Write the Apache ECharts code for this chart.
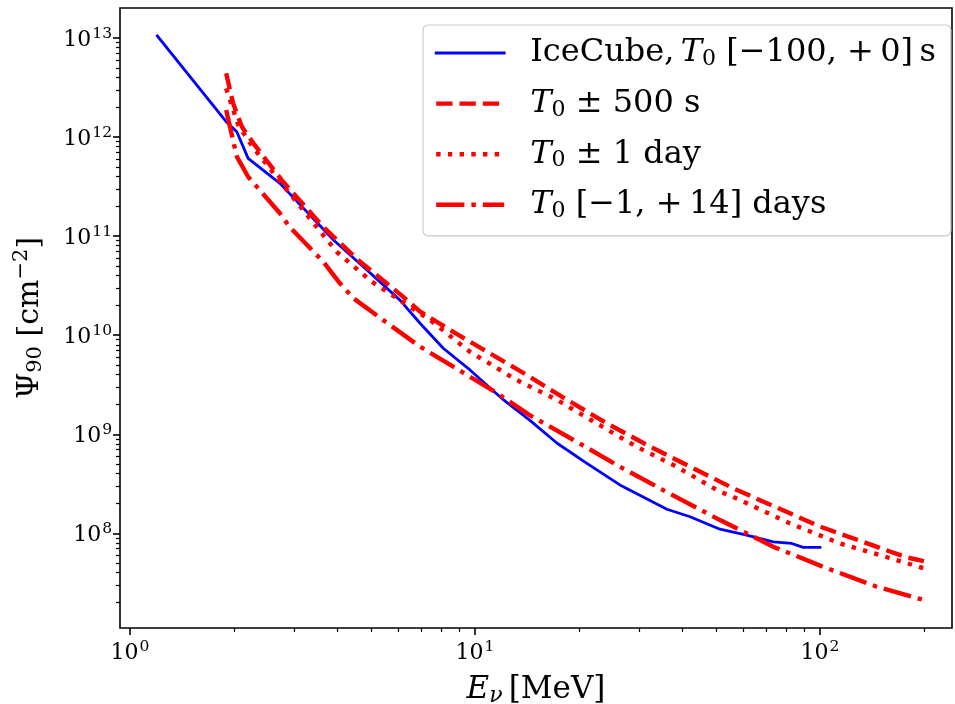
<!DOCTYPE html>
<html>
<head>
<meta charset="utf-8">
<title>Neutrino fluence upper limits</title>
<script src="https://cdn.jsdelivr.net/npm/echarts@6/dist/echarts.min.js"></script>
<style>
  html, body { margin: 0; padding: 0; background: #ffffff; }
  #chart { width: 955px; height: 704px; }
</style>
</head>
<body>
<div id="chart"></div>
<script>
// Upper limits on the neutrino fluence (90% C.L.) versus neutrino energy.
const energyIceCube = [1.2, 1.9, 2.04, 2.2, 2.72, 3.89, 4.86, 6.06, 6.93, 8.09, 9.67, 12.1, 14.4, 17.3, 21.1, 26.3, 36.0, 42.0, 51.3, 61.3, 73.2, 82.8, 89.4, 100];
const fluxIceCube = [1.05e13, 1.43e12, 1.13e12, 6.1e11, 3.41e11, 9.15e10, 4.55e10, 2.26e10, 1.32e10, 7.38e9, 4.46e9, 2.22e9, 1.39e9, 8.11e8, 5.09e8, 3.08e8, 1.75e8, 1.47e8, 1.10e8, 9.6e7, 8.2e7, 7.9e7, 7.2e7, 7.2e7];

const energy500s = [1.9, 1.99, 2.11, 2.28, 2.46, 2.75, 3.63, 4.58, 6.06, 6.93, 8.65, 11.05, 14.4, 18.5, 24.1, 32.2, 43.9, 56.7, 100, 178, 200];
const flux500s = [4.4e12, 2.19e12, 1.27e12, 8.65e11, 6.11e11, 3.69e11, 1.24e11, 5.74e10, 2.6e10, 1.73e10, 1.08e10, 6.56e9, 3.81e9, 2.22e9, 1.29e9, 7.49e8, 4.36e8, 2.79e8, 1.17e8, 5.72e7, 5.25e7];

const energy1day = [1.9, 2.06, 2.26, 2.76, 3.97, 5.02, 7.41, 9.67, 13.2, 17.3, 22.5, 29.4, 38.4, 50.2, 58.6, 81.8, 114, 160, 200];
const flux1day = [3.1e12, 1.32e12, 8.1e11, 3.36e11, 6.96e10, 3.47e10, 1.42e10, 6.8e9, 3.53e9, 2.22e9, 1.29e9, 7.48e8, 4.7e8, 2.74e8, 2.17e8, 1.26e8, 7.93e7, 5.6e7, 4.43e7];

const energy14days = [1.9, 2.04, 2.2, 2.33, 2.72, 2.9, 3.63, 4.06, 4.44, 5.42, 6.93, 8.65, 11.6, 14.4, 19.3, 26.3, 35.1, 51.3, 73.2, 102, 146, 200];
const flux14days = [1.88e12, 6.34e11, 3.98e11, 3.16e11, 1.70e11, 1.24e11, 5.52e10, 3.34e10, 2.36e10, 1.42e10, 7.65e9, 4.81e9, 2.59e9, 1.56e9, 8.75e8, 4.7e8, 2.73e8, 1.36e8, 7.33e7, 4.6e7, 2.89e7, 2.12e7];

const seriesNames = [
  'IceCube, T0 [\u2212100, +0] s',
  'T0 \u00b1 500 s',
  'T0 \u00b1 1 day',
  'T0 [\u22121, +14] days'
];

// Axis ranges and tick positions (log scales)
const xRange = [0.9355, 241.3];
const yRange = [1.107e7, 2.009e13];
const xMajorTicks = [1, 10, 100];
const xMinorTicks = [2, 3, 4, 5, 6, 7, 8, 9, 20, 30, 40, 50, 60, 70, 80, 90, 200];
const yMajorTicks = [1e8, 1e9, 1e10, 1e11, 1e12, 1e13];
const yMinorTicks = [];
for (let p = 7; p <= 12; p++) {
  for (let m = 2; m <= 9; m++) yMinorTicks.push(m * Math.pow(10, p));
}

const FONT = 'DejaVu Serif';
const BLACK = '#000000';

function pairs(xs, ys) { return xs.map((x, i) => [x, ys[i]]); }

function powerLabel(v) {
  const e = Math.log10(v);
  const r = Math.round(e);
  if (Math.abs(e - r) > 1e-6) return '';
  return '{m|10}{e|' + r + '}';
}

const tickRich = {
  m: { fontFamily: FONT, fontSize: 22, lineHeight: 26, color: BLACK, padding: [4, 0, 0, 0] },
  e: { fontFamily: FONT, fontSize: 15.5, lineHeight: 26, color: BLACK, padding: [0, 0, 8, 1] }
};

const legendText = {};
legendText[seriesNames[0]] = '{g| }{m|IceCube,\u2009}{mi|T}{sb|0}{m| [\u2212100, +\u20090]\u2009s}';
legendText[seriesNames[1]] = '{g| }{mi|T}{sb|0}{m| \u00b1 500 s}';
legendText[seriesNames[2]] = '{g| }{mi|T}{sb|0}{m| \u00b1 1 day}';
legendText[seriesNames[3]] = '{g| }{mi|T}{sb|0}{m| [\u22121, +\u200914] days}';

const LEG_FS = 32;
const legendRich = {
  g: { width: 21, lineHeight: 40, fontSize: LEG_FS },
  m: { fontFamily: FONT, fontSize: LEG_FS, lineHeight: 40, color: BLACK },
  mi: { fontFamily: FONT, fontStyle: 'italic', fontSize: LEG_FS, lineHeight: 40, color: BLACK },
  sb: { fontFamily: FONT, fontSize: 22, lineHeight: 40, color: BLACK, padding: [13, 0, 0, 0] }
};

const xTitleRich = {
  i: { fontFamily: FONT, fontStyle: 'italic', fontSize: 31, lineHeight: 36, color: BLACK },
  sb: { fontFamily: FONT, fontStyle: 'italic', fontSize: 22, lineHeight: 36, color: BLACK, padding: [12, 0, 0, 0] },
  r: { fontFamily: FONT, fontSize: 31, lineHeight: 36, color: BLACK }
};
const yTitleRich = {
  r: { fontFamily: FONT, fontSize: 30, lineHeight: 36, color: BLACK },
  sb: { fontFamily: FONT, fontSize: 21, lineHeight: 36, color: BLACK, padding: [12, 0, 0, 0] },
  sp: { fontFamily: FONT, fontSize: 21, lineHeight: 36, color: BLACK, padding: [0, 0, 16, 0] }
};

function logAxis(range, extra) {
  return Object.assign({
    type: 'log',
    logBase: 10,
    min: range[0],
    max: range[1],
    gridIndex: 0,
    splitLine: { show: false },
    axisLine: { show: false }
  }, extra);
}

const tickLine = { color: BLACK, width: 1.6 };
const minorTickLine = { color: BLACK, width: 1.2 };

const option = {
  animation: false,
  backgroundColor: '#ffffff',
  grid: {
    left: 120, right: 3, top: 8, bottom: 76,
    containLabel: false,
    outerBoundsMode: 'none',
    show: true,
    borderColor: BLACK,
    borderWidth: 1.6,
    backgroundColor: 'transparent'
  },
  xAxis: [
    logAxis(xRange, {
      position: 'bottom',
      axisTick: { show: true, customValues: xMajorTicks, length: 7, lineStyle: tickLine },
      axisLabel: { show: true, customValues: xMajorTicks, formatter: powerLabel, rich: tickRich, margin: 10 },
      name: '{i|E}{sb|\u03bd}{r|\u2009[MeV]}',
      nameLocation: 'middle',
      nameGap: 44,
      nameTextStyle: { rich: xTitleRich }
    }),
    logAxis(xRange, {
      position: 'bottom',
      axisTick: { show: true, customValues: xMinorTicks, length: 4, lineStyle: minorTickLine },
      axisLabel: { show: false }
    })
  ],
  yAxis: [
    logAxis(yRange, {
      position: 'left',
      axisTick: { show: true, customValues: yMajorTicks, length: 7, lineStyle: tickLine },
      axisLabel: { show: true, customValues: yMajorTicks, formatter: powerLabel, rich: tickRich, margin: 8 },
      name: '{r|\u03a8}{sb|90}{r| [cm}{sp|\u22122}{r|]}',
      nameLocation: 'middle',
      nameGap: 72,
      nameTextStyle: { rich: yTitleRich }
    }),
    logAxis(yRange, {
      position: 'left',
      axisTick: { show: true, customValues: yMinorTicks, length: 4, lineStyle: minorTickLine },
      axisLabel: { show: false }
    })
  ],
  legend: {
    orient: 'vertical',
    left: 423,
    top: 25,
    padding: [8, 15, 11, 11],
    itemWidth: 68,
    itemHeight: 14,
    itemGap: 10.6,
    selectedMode: false,
    backgroundColor: 'rgba(255,255,255,0.8)',
    borderColor: '#cccccc',
    borderWidth: 1.2,
    borderRadius: 5,
    itemStyle: { opacity: 0 },
    lineStyle: { width: 'inherit' },
    data: seriesNames,
    formatter: name => legendText[name],
    textStyle: { rich: legendRich, lineHeight: 40 }
  },
  series: [
    {
      name: seriesNames[0], type: 'line', xAxisIndex: 0, yAxisIndex: 0,
      data: pairs(energyIceCube, fluxIceCube),
      symbol: 'none', showSymbol: false,
      itemStyle: { color: '#0000ff' },
      lineStyle: { color: '#0000ff', width: 2.8, type: 'solid', cap: 'square', join: 'round' }
    },
    {
      name: seriesNames[1], type: 'line', xAxisIndex: 0, yAxisIndex: 0,
      data: pairs(energy500s, flux500s),
      symbol: 'none', showSymbol: false,
      itemStyle: { color: '#ff0000' },
      lineStyle: { color: '#ff0000', width: 4.4, type: [16.3, 7.0], join: 'round' }
    },
    {
      name: seriesNames[2], type: 'line', xAxisIndex: 0, yAxisIndex: 0,
      data: pairs(energy1day, flux1day),
      symbol: 'none', showSymbol: false,
      itemStyle: { color: '#ff0000' },
      lineStyle: { color: '#ff0000', width: 4.4, type: [4.4, 7.3], join: 'round' }
    },
    {
      name: seriesNames[3], type: 'line', xAxisIndex: 0, yAxisIndex: 0,
      data: pairs(energy14days, flux14days),
      symbol: 'none', showSymbol: false,
      itemStyle: { color: '#ff0000' },
      lineStyle: { color: '#ff0000', width: 4.4, type: [28.2, 7.0, 4.4, 7.0], join: 'round' }
    }
  ]
};

const chart = echarts.init(document.getElementById('chart'), null, { renderer: 'canvas' });
chart.setOption(option);
</script>
</body>
</html>
